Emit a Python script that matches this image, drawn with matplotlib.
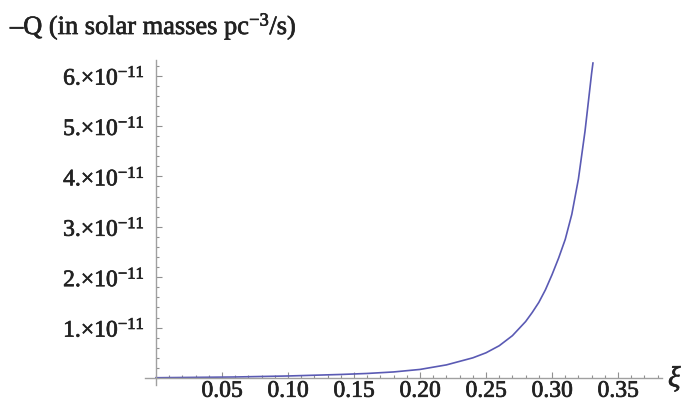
import matplotlib
matplotlib.use('Agg')
import matplotlib.pyplot as plt
import matplotlib.patheffects as pe
from matplotlib.ticker import MultipleLocator, FixedLocator

plt.rcParams['font.family'] = ['Liberation Serif', 'DejaVu Serif']
plt.rcParams['mathtext.fontset'] = 'custom'
plt.rcParams['mathtext.rm'] = 'Liberation Serif'
plt.rcParams['mathtext.it'] = 'Liberation Serif:italic'
plt.rcParams['mathtext.default'] = 'rm'

# -Q versus xi, Q in units of 1e-11 solar masses pc^-3 / s
xi = [0.0, 0.02, 0.04, 0.06, 0.08, 0.10, 0.12, 0.14, 0.16, 0.18, 0.20,
      0.22, 0.24, 0.25, 0.26, 0.27, 0.28, 0.285, 0.29, 0.295, 0.30, 0.305, 0.31,
      0.315, 0.32, 0.325, 0.33, 0.331]
minus_q = [0.005, 0.01, 0.015, 0.02, 0.03, 0.04, 0.055, 0.07, 0.09, 0.12, 0.17,
           0.26, 0.40, 0.50, 0.64, 0.84, 1.12, 1.30, 1.50, 1.75, 2.05, 2.38, 2.75,
           3.25, 3.95, 4.90, 6.05, 6.25]
scale = 1e-11

x_ticks = [0.05, 0.10, 0.15, 0.20, 0.25, 0.30, 0.35]
x_labels = ['0.05', '0.10', '0.15', '0.20', '0.25', '0.30', '0.35']
y_ticks = [1, 2, 3, 4, 5, 6]

ink = '#222222'
heavy = [pe.withStroke(linewidth=0.5, foreground=ink)]

fig = plt.figure(figsize=(6.91, 4.03), dpi=100)
ax = fig.add_axes([145 / 691, 1 - 385 / 403, (662 - 145) / 691, (385 - 60) / 403])

ax.plot(xi, [v * scale for v in minus_q], color='#5a5ab4', lw=1.2)

ax.set_xlim(-0.0083, 0.3833)
ax.set_ylim(-0.139e-11, 6.31e-11)

for side in ['top', 'right']:
    ax.spines[side].set_visible(False)
ax.spines['left'].set_position(('data', 0))
ax.spines['bottom'].set_position(('data', 0))
for side in ['left', 'bottom']:
    ax.spines[side].set_color('#a0a0a0')
    ax.spines[side].set_linewidth(1.0)

ax.xaxis.set_major_locator(FixedLocator(x_ticks))
ax.set_xticklabels(x_labels)
ax.xaxis.set_minor_locator(MultipleLocator(0.01))
ax.yaxis.set_major_locator(FixedLocator([v * scale for v in y_ticks]))
ax.set_yticklabels(['%d.\u00d710$^{-11}$' % v for v in y_ticks])
ax.yaxis.set_minor_locator(MultipleLocator(0.2e-11))

ax.tick_params(which='both', direction='in', color='#909090', width=0.8)
ax.tick_params(which='major', length=4.5, labelsize=17, labelcolor=ink)
ax.tick_params(which='minor', length=2.5)
ax.tick_params(axis='x', pad=2)
ax.tick_params(axis='y', pad=8)
for lbl in ax.get_xticklabels() + ax.get_yticklabels():
    lbl.set_path_effects(heavy)

fig.text(10 / 691, 1 - 27 / 403, '\u2013Q (in solar masses pc$^{-3}$/s)',
         fontsize=19, color=ink, ha='left', va='center', path_effects=heavy)
fig.text(668 / 691, 1 - 378 / 403, r'$\mathit{\xi}$', fontsize=21, color=ink,
         ha='left', va='center', path_effects=heavy)

fig.savefig('out.png', dpi=100, facecolor='white')
